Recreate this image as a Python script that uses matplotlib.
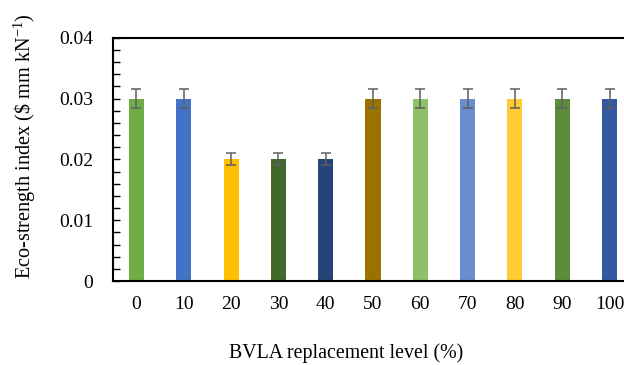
import matplotlib
matplotlib.use("Agg")
import matplotlib.pyplot as plt

plt.rcParams['font.family'] = ['Liberation Serif', 'DejaVu Serif']
plt.rcParams['mathtext.fontset'] = 'custom'
plt.rcParams['mathtext.rm'] = 'Liberation Serif'

categories = ['0', '10', '20', '30', '40', '50', '60', '70', '80', '90', '100']
values = [0.03, 0.03, 0.02, 0.02, 0.02, 0.03, 0.03, 0.03, 0.03, 0.03, 0.03]
errors = [0.0015, 0.0015, 0.001, 0.001, 0.001, 0.0015, 0.0015, 0.0015, 0.0015, 0.0015, 0.0015]
colors = ['#70AD47', '#4472C4', '#FFC000', '#43682B', '#264478', '#997300',
          '#8CC168', '#698ED0', '#FFCD33', '#5B8C3B', '#335AA1']
yticks = [0, 0.01, 0.02, 0.03, 0.04]
ytick_labels = ['0', '0.01', '0.02', '0.03', '0.04']
yminor = [0.002, 0.004, 0.006, 0.008, 0.012, 0.014, 0.016, 0.018,
          0.022, 0.024, 0.026, 0.028, 0.032, 0.034, 0.036, 0.038]

W, H = 624, 365
fig = plt.figure(figsize=(W / 100, H / 100), dpi=100)
ax = fig.add_axes([112.8 / W, (H - 281) / H, (633.2 - 112.8) / W, (281 - 37.7) / H])

x = list(range(len(categories)))
ax.bar(x, values, width=0.32, color=colors, zorder=2)
ax.errorbar(x, values, yerr=errors, fmt='none', ecolor='#5F5F5F',
            elinewidth=1.1, capsize=3.4, capthick=1.1, zorder=3)

ax.set_xlim(-0.5, len(categories) - 0.5)
ax.set_ylim(0, 0.04)
ax.set_xticks(x)
ax.set_xticklabels(categories)
ax.set_yticks(yticks)
ax.set_yticklabels(ytick_labels)
ax.set_yticks(yminor, minor=True)
ax.tick_params(axis='y', which='both', direction='in', length=5, width=1, labelsize=14, pad=14)
ax.tick_params(axis='x', which='both', length=0, labelsize=14, pad=11)

for s in ['left', 'top', 'bottom']:
    ax.spines[s].set_linewidth(1.5)
    ax.spines[s].set_color('black')
ax.spines['right'].set_visible(False)

fig.text(346 / W, 1 - 353 / H, 'BVLA replacement level (%)', fontsize=14.3,
         ha='center', va='center')
fig.text(25 / W, 1 - 146 / H, r'Eco-strength index (\$ mm kN$^{-1}$)', fontsize=14.6,
         ha='center', va='center', rotation=90, rotation_mode='anchor')

fig.savefig('out.png', dpi=100)
